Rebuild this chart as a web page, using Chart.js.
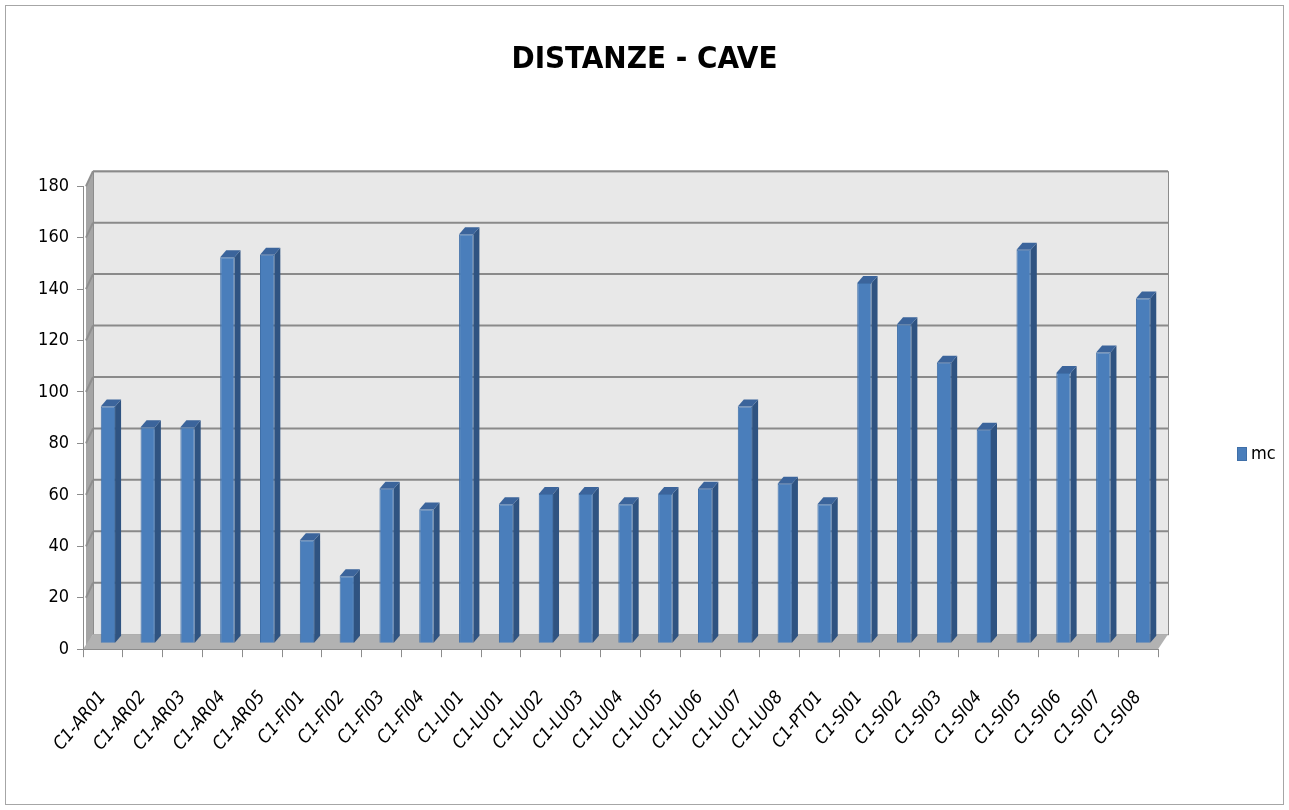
<!DOCTYPE html>
<html>
<head>
<meta charset="utf-8">
<title>DISTANZE - CAVE</title>
<script src="https://cdn.jsdelivr.net/npm/chart.js@4.4.1/dist/chart.umd.min.js"></script>
<style>
    html, body { margin: 0; padding: 0; background: #fff; }
    #wrap { width: 1289px; height: 810px; }
</style>
</head>
<body>
<div id="wrap"><canvas id="caveChart" width="1289" height="810"></canvas></div>
<script>
// dati
const categories = [
    'C1-AR01', 'C1-AR02', 'C1-AR03', 'C1-AR04', 'C1-AR05',
    'C1-FI01', 'C1-FI02', 'C1-FI03', 'C1-FI04', 'C1-LI01',
    'C1-LU01', 'C1-LU02', 'C1-LU03', 'C1-LU04', 'C1-LU05',
    'C1-LU06', 'C1-LU07', 'C1-LU08', 'C1-PT01', 'C1-SI01',
    'C1-SI02', 'C1-SI03', 'C1-SI04', 'C1-SI05', 'C1-SI06',
    'C1-SI07', 'C1-SI08'
];
const mcValues = [
    92, 84, 84, 150, 151,
    40, 26, 60, 52, 159,
    54, 58, 58, 54, 58,
    60, 92, 62, 54, 140,
    124, 109, 83, 153, 105,
    113, 134
];
const yMin = 0;
const yMax = 180;
const yStep = 20;

const FONT = "'Liberation Sans Narrow', 'DejaVu Sans Condensed', sans-serif";

// profondità finta 3D (pareti e barre)
const wallDepth = { dx: 10, dy: -15 };
const barShift = { dx: 5, dy: -6 };
const barSide = { dx: 6, dy: -7 };

// cornice, pareti e griglia sul fondo
const wallsPlugin = {
    id: 'walls',
    beforeDraw(chart) {
        const ctx = chart.ctx;
        const a = chart.chartArea;
        const ys = chart.scales.y;
        const L = a.left, R = a.right, T = a.top, B = a.bottom;
        const dx = wallDepth.dx, dy = wallDepth.dy;

        ctx.save();
        ctx.fillStyle = '#ffffff';
        ctx.fillRect(0, 0, chart.width, chart.height);
        ctx.strokeStyle = '#a6a6a6';
        ctx.lineWidth = 1;
        ctx.strokeRect(5.5, 5.5, chart.width - 11, chart.height - 11);

        // parete di fondo
        ctx.fillStyle = '#e8e8e8';
        ctx.fillRect(L + dx, T + dy, R - L, B - T);
        ctx.strokeStyle = '#8c8c8c';
        ctx.strokeRect(L + dx + 0.5, T + dy + 0.5, R - L, B - T);

        // parete sinistra
        ctx.fillStyle = '#a5a5a5';
        ctx.beginPath();
        ctx.moveTo(L + 3, T);
        ctx.lineTo(L + dx, T + dy);
        ctx.lineTo(L + dx, B + dy);
        ctx.lineTo(L + 3, B);
        ctx.closePath();
        ctx.fill();

        // pavimento
        ctx.fillStyle = '#b2b2b2';
        ctx.beginPath();
        ctx.moveTo(L, B);
        ctx.lineTo(L + dx, B + dy);
        ctx.lineTo(R + dx, B + dy);
        ctx.lineTo(R, B);
        ctx.closePath();
        ctx.fill();

        // linee della griglia
        ctx.lineWidth = 2;
        for (let v = yMin + yStep; v <= yMax; v += yStep) {
            const py = ys.getPixelForValue(v);
            ctx.strokeStyle = '#8a8a8a';
            ctx.beginPath();
            ctx.moveTo(L + dx, py + dy);
            ctx.lineTo(R + dx, py + dy);
            ctx.stroke();
            ctx.strokeStyle = '#8f8f8f';
            ctx.beginPath();
            ctx.moveTo(L + 3, py);
            ctx.lineTo(L + dx, py + dy);
            ctx.stroke();
        }
        ctx.restore();
    },
    // legenda a destra, a metà altezza
    afterDraw(chart) {
        const ctx = chart.ctx;
        const ds = chart.data.datasets[0];
        const bx = chart.width - 52;
        const by = Math.round(chart.height * 0.56);
        ctx.save();
        ctx.fillStyle = ds.backgroundColor;
        ctx.fillRect(bx, by - 7, 10, 14);
        ctx.strokeStyle = ds.borderColor;
        ctx.lineWidth = 1;
        ctx.strokeRect(bx + 0.5, by - 6.5, 9, 13);
        ctx.fillStyle = '#000';
        ctx.font = '18px ' + FONT;
        ctx.textBaseline = 'middle';
        ctx.fillText(ds.label, bx + 14, by);
        ctx.restore();
    }
};

// lati e tetti delle barre
const bars3dPlugin = {
    id: 'bars3d',
    beforeDatasetsDraw(chart) {
        chart.ctx.save();
        chart.ctx.translate(barShift.dx, barShift.dy);
    },
    afterDatasetsDraw(chart) {
        const ctx = chart.ctx;
        const meta = chart.getDatasetMeta(0);
        meta.data.forEach(function (el) {
            const p = el.getProps(['x', 'y', 'base', 'width'], true);
            const left = p.x - p.width / 2;
            const right = p.x + p.width / 2;

            ctx.fillStyle = '#2f5381';
            ctx.beginPath();
            ctx.moveTo(right, p.y);
            ctx.lineTo(right + barSide.dx, p.y + barSide.dy);
            ctx.lineTo(right + barSide.dx, p.base + barSide.dy);
            ctx.lineTo(right, p.base);
            ctx.closePath();
            ctx.fill();

            ctx.fillStyle = '#3b649b';
            ctx.beginPath();
            ctx.moveTo(left, p.y);
            ctx.lineTo(left + barSide.dx, p.y + barSide.dy);
            ctx.lineTo(right + barSide.dx, p.y + barSide.dy);
            ctx.lineTo(right, p.y);
            ctx.closePath();
            ctx.fill();
        });
        ctx.restore();
    }
};

new Chart(document.getElementById('caveChart').getContext('2d'), {
    type: 'bar',
    data: {
        labels: categories,
        datasets: [{
            label: 'mc',
            data: mcValues,
            backgroundColor: '#4a7ebb',
            borderColor: '#3f6fa8',
            borderWidth: 1,
            barPercentage: 0.9,
            categoryPercentage: 0.4
        }]
    },
    plugins: [wallsPlugin, bars3dPlugin],
    options: {
        responsive: false,
        animation: false,
        layout: {
            padding: { left: 0, right: 0, top: 0, bottom: 25 }
        },
        plugins: {
            title: {
                display: true,
                text: 'DISTANZE - CAVE',
                color: '#000',
                font: { family: FONT, size: 31, weight: 'bold' },
                padding: { top: 41, bottom: 108 }
            },
            legend: { display: false },
            tooltip: { enabled: false }
        },
        scales: {
            x: {
                grid: {
                    offset: true,
                    drawOnChartArea: false,
                    color: '#8c8c8c',
                    tickLength: 8
                },
                border: { color: '#8c8c8c' },
                ticks: {
                    color: '#000',
                    font: { family: FONT, size: 18, style: 'italic' },
                    maxRotation: 50,
                    minRotation: 50,
                    autoSkip: false,
                    padding: 30
                }
            },
            y: {
                min: yMin,
                max: yMax,
                afterFit(scale) { scale.width = 83; },
                grid: {
                    drawOnChartArea: false,
                    color: '#8c8c8c',
                    tickLength: 6
                },
                border: { color: '#8c8c8c' },
                ticks: {
                    stepSize: yStep,
                    color: '#000',
                    font: { family: FONT, size: 18 },
                    padding: 8
                }
            },
            // spazio vuoto a destra per la legenda
            spazio: {
                position: 'right',
                afterFit(scale) { scale.width = 131; },
                grid: { display: false },
                border: { display: false },
                ticks: { display: false }
            }
        }
    }
});
</script>
</body>
</html>
